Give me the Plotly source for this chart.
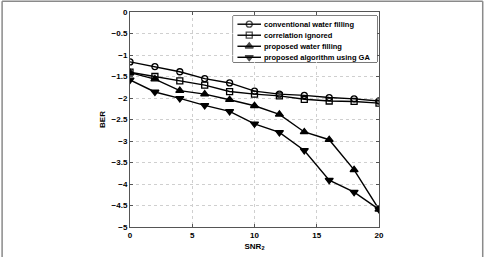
import plotly.graph_objects as go

snr = [0, 2, 4, 6, 8, 10, 12, 14, 16, 18, 20]
conventional = [-1.16, -1.27, -1.39, -1.55, -1.65, -1.84, -1.91, -1.94, -1.99, -2.02, -2.07]
corr_ignored = [-1.40, -1.50, -1.60, -1.70, -1.85, -1.91, -1.95, -2.03, -2.07, -2.08, -2.12]
proposed_wf = [-1.41, -1.56, -1.83, -1.91, -2.04, -2.18, -2.38, -2.79, -2.97, -3.67, -4.59]
proposed_ga = [-1.58, -1.86, -2.01, -2.17, -2.31, -2.60, -2.80, -3.22, -3.91, -4.19, -4.59]

names = ["conventional water filling", "correlation ignored",
         "proposed water filling", "proposed algorithm using GA"]
series = [conventional, corr_ignored, proposed_wf, proposed_ga]
symbols = ["circle-open", "square-open", "triangle-up", "triangle-down"]
sizes = [6, 6, 7, 7]

x_ticks = [0, 5, 10, 15, 20]
y_ticks = [0, -0.5, -1, -1.5, -2, -2.5, -3, -3.5, -4, -4.5, -5]

W, H = 491, 257
L, R, T, B = 129.5, 378.7, 12.3, 227.0
FONT = "Liberation Sans, Arial, sans-serif"

fig = go.Figure()
for name, ys, sym, sz in zip(names, series, symbols, sizes):
    fig.add_trace(go.Scatter(
        x=snr, y=ys, mode="lines+markers", name=name, showlegend=False,
        line=dict(color="black", width=1.4),
        marker=dict(symbol=sym, size=sz, color="black",
                    line=dict(color="black", width=1.3)),
    ))

# custom legend in an overlay axis
row_y = [0.822, 0.583, 0.343, 0.104]
for name, sym, sz, ry in zip(names, symbols, sizes, row_y):
    fig.add_trace(go.Scatter(
        x=[0.03, 0.112, 0.194], y=[ry, ry, ry], mode="lines+markers",
        xaxis="x2", yaxis="y2", showlegend=False, hoverinfo="skip",
        line=dict(color="black", width=1.4),
        marker=dict(symbol=sym, size=[0, sz, 0], color="black",
                    line=dict(color="black", width=1.3)),
    ))
    fig.add_annotation(x=0.198, y=ry, xref="x2", yref="y2", text=name,
                       showarrow=False, xanchor="left", yanchor="middle",
                       font=dict(family=FONT, size=7.5, color="black", weight="bold"))

pw, ph = R - L, B - T
def px_x(p):
    return (p - L) / pw
def px_y(p):
    return 1 - (p - T) / ph

fig.add_shape(type="rect", xref="x2 domain", yref="y2 domain", x0=0, x1=1, y0=0, y1=1,
              line=dict(color="black", width=1), fillcolor="white", layer="below")

# outer frame (left, top, right)
frame_col = "#8a8a8a"
fig.add_shape(type="line", xref="paper", yref="paper", x0=px_x(1.5), x1=px_x(1.5),
              y0=px_y(1.5), y1=px_y(260), line=dict(color=frame_col, width=1.5))
fig.add_shape(type="line", xref="paper", yref="paper", x0=px_x(1.5), x1=px_x(482.5),
              y0=px_y(1.5), y1=px_y(1.5), line=dict(color=frame_col, width=1.5))
fig.add_shape(type="line", xref="paper", yref="paper", x0=px_x(482.5), x1=px_x(482.5),
              y0=px_y(1.5), y1=px_y(260), line=dict(color=frame_col, width=1.5))

axis_common = dict(showline=True, linecolor="#555555", linewidth=1, mirror="ticks",
                   ticks="inside", ticklen=3, tickcolor="#555555", showgrid=True,
                   gridcolor="#cfcfcf", griddash="dot", gridwidth=1, zeroline=False,
                   tickfont=dict(family=FONT, size=8, color="black", weight="bold"))

fig.update_layout(
    width=W, height=H,
    margin=dict(l=L, r=W - R, t=T, b=H - B, autoexpand=False),
    paper_bgcolor="white", plot_bgcolor="white",
    xaxis=dict(range=[0, 20], tickvals=x_ticks, ticktext=[str(v) for v in x_ticks],
               title=dict(text="SNR<sub>2</sub>",
                          font=dict(family=FONT, size=8, color="black", weight="bold"),
                          standoff=4),
               **axis_common),
    yaxis=dict(range=[-5, 0], tickvals=y_ticks,
               title=dict(text="BER",
                          font=dict(family=FONT, size=8, color="black", weight="bold"),
                          standoff=4),
               **axis_common),
    xaxis2=dict(domain=[px_x(232.7), px_x(376.7)], range=[0, 1], visible=False,
                anchor="y2", fixedrange=True),
    yaxis2=dict(domain=[px_y(62.3), px_y(16.3)], range=[0, 1], visible=False,
                anchor="x2", fixedrange=True),
    showlegend=False,
)

fig.write_html("out.html")
